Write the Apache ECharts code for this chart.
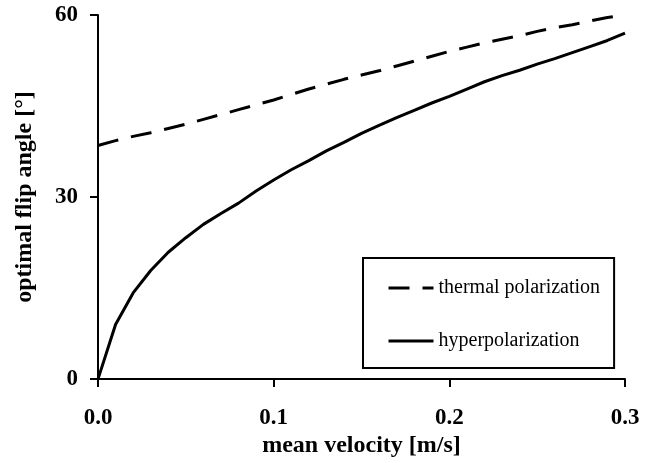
<!DOCTYPE html>
<html>
<head>
<meta charset="utf-8">
<script src="https://cdn.jsdelivr.net/npm/echarts@6/dist/echarts.min.js"></script>
<style>html,body{margin:0;padding:0;background:#fff;}#c{width:653px;height:463px;}</style>
</head>
<body>
<div id="c"></div>
<script>
const velocities = [0,0.01,0.02,0.03,0.04,0.05,0.06,0.07,0.08,0.09,0.10,0.11,0.12,0.13,0.14,0.15,0.16,0.17,0.18,0.19,0.20,0.21,0.22,0.23,0.24,0.25,0.26,0.27,0.28,0.29,0.30];
const thermal = [38.5,39.3,40.0,40.6,41.3,42.0,42.8,43.6,44.4,45.2,46.0,46.9,47.8,48.6,49.4,50.1,50.8,51.6,52.4,53.2,54.0,54.7,55.4,56.0,56.6,57.3,57.9,58.4,59.0,59.6,60.0];
const hyper = [0,9.0,14.2,17.9,20.9,23.3,25.5,27.3,29.0,31.0,32.8,34.5,36.0,37.6,39.0,40.5,41.8,43.1,44.3,45.5,46.6,47.8,49.0,50.0,50.9,51.9,52.8,53.8,54.8,55.8,57.0];
const seriesNames = ['thermal polarization','hyperpolarization'];
const xAxisTitle = 'mean velocity [m/s]';
const yAxisTitle = 'optimal flip angle [°]';

const font = '"Liberation Serif","Times New Roman",serif';
const chart = echarts.init(document.getElementById('c'), null, {renderer:'canvas'});
chart.setOption({
  animation:false,
  backgroundColor:'#fff',
  grid:{left:98,right:28,top:15,bottom:83,containLabel:false},
  legend:{
    left:363, top:258, orient:'vertical',
    data:seriesNames,
    itemWidth:45, itemHeight:17, itemGap:33,
    padding:[20,14,17,24],
    borderColor:'#000', borderWidth:2, borderRadius:0,
    backgroundColor:'#fff',
    itemStyle:{opacity:0},
    lineStyle:{width:3},
    textStyle:{fontFamily:font,fontSize:20,color:'#000'}
  },
  xAxis:{
    type:'value', min:0, max:0.3, interval:0.1,
    name:xAxisTitle, nameLocation:'middle', nameGap:52,
    nameTextStyle:{fontFamily:font,fontSize:24,fontWeight:'bold',color:'#000'},
    axisLine:{show:true,lineStyle:{color:'#000',width:2}},
    axisTick:{show:true,inside:false,length:8,lineStyle:{color:'#000',width:2}},
    axisLabel:{margin:27,fontFamily:font,fontSize:23,fontWeight:'bold',color:'#000',
      formatter:v=>v.toFixed(1)},
    splitLine:{show:false}
  },
  yAxis:{
    type:'value', min:0, max:60, interval:30,
    name:yAxisTitle, nameLocation:'middle', nameGap:61, nameRotate:90,
    nameTextStyle:{fontFamily:font,fontSize:24,fontWeight:'bold',color:'#000'},
    axisLine:{show:true,lineStyle:{color:'#000',width:2}},
    axisTick:{show:true,inside:false,length:8,lineStyle:{color:'#000',width:2}},
    axisLabel:{margin:20,fontFamily:font,fontSize:23,fontWeight:'bold',color:'#000'},
    splitLine:{show:false}
  },
  series:[
    {name:seriesNames[0],type:'line',symbol:'none',
     data:velocities.map((v,i)=>[v,thermal[i]]),
     lineStyle:{color:'#000',width:3,type:[21,13]},itemStyle:{color:'#000'}},
    {name:seriesNames[1],type:'line',symbol:'none',
     data:velocities.map((v,i)=>[v,hyper[i]]),
     lineStyle:{color:'#000',width:3,type:'solid'},itemStyle:{color:'#000'}}
  ]
});
</script>
</body>
</html>
